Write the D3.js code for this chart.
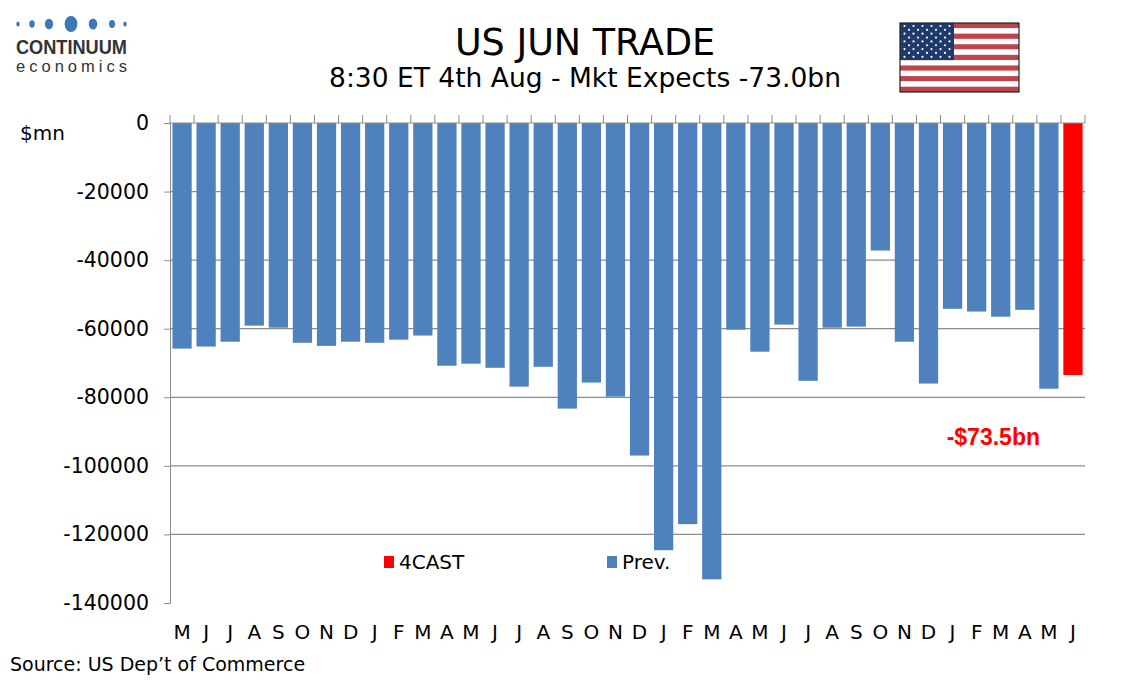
<!DOCTYPE html>
<html>
<head>
<meta charset="utf-8">
<script src="https://cdn.jsdelivr.net/npm/d3@7"></script>
<style>
  body { margin: 0; background: #fff; }
</style>
</head>
<body>
<div id="chart"></div>
<script>
const WIDTH  = 1134;
const HEIGHT = 680;
const MARGIN = { top: 123, right: 49, bottom: 77, left: 170 };
const INNER_WIDTH  = WIDTH - MARGIN.left - MARGIN.right;
const INNER_HEIGHT = HEIGHT - MARGIN.top - MARGIN.bottom;
const SANS  = '"DejaVu Sans", Verdana, sans-serif';
const ARIAL = '"Liberation Sans", Arial, sans-serif';

// month labels, May (two years back) to June
const months = ['M','J','J','A','S','O','N','D',
  'J','F','M','A','M','J','J','A','S','O','N','D',
  'J','F','M','A','M','J','J','A','S','O','N','D',
  'J','F','M','A','M','J'];
// trade balance, $mn (last one is the forecast)
const balance = [-65800, -65200, -63800, -59100, -59700, -64100, -65000, -63800,
  -64100, -63200, -62000, -70800, -70200, -71400, -76900, -71100, -83300, -75700,
  -79800, -97000, -124600, -117000, -133100, -60300, -66700, -58800, -75200, -59700,
  -59400, -37200, -63800, -76000, -54200, -55000, -56500, -54500, -77500, -73500];
const yTicks = [0, -20000, -40000, -60000, -80000, -100000, -120000, -140000];
const legendItems = [
  { name: '4CAST', color: '#ff0000' },
  { name: 'Prev.', color: '#4f81bd' }
];

const data = months.map((m, i) => ({ i: i, m: m, v: balance[i], fc: i === months.length - 1 }));

const root = d3.select('#chart').append('svg')
  .attr('width', WIDTH)
  .attr('height', HEIGHT)
  .attr('font-family', SANS);
const svg = root.append('g')
  .attr('transform', 'translate(' + MARGIN.left + ',' + MARGIN.top + ')');

const x = d3.scaleBand().domain(d3.range(months.length)).range([0, INNER_WIDTH]).paddingInner(0.2).paddingOuter(0.1);
const y = d3.scaleLinear().domain([-140000, 0]).range([INNER_HEIGHT, 0]);

// horizontal grid
svg.append('g')
  .selectAll('line')
  .data(yTicks.filter(d => d < 0 && d > -140000))
  .join('line')
    .attr('x1', 0).attr('x2', INNER_WIDTH)
    .attr('y1', d => y(d)).attr('y2', d => y(d))
    .attr('stroke', '#8c8c8c').attr('stroke-width', 1.2);

// bars
svg.append('g')
  .selectAll('rect')
  .data(data)
  .join('rect')
    .attr('x', d => x(d.i))
    .attr('width', x.bandwidth())
    .attr('y', y(0))
    .attr('height', d => y(d.v) - y(0))
    .attr('fill', d => d.fc ? '#ff0000' : '#4f81bd');

// y axis
const yAxis = d3.axisLeft(y).tickValues(yTicks).tickSize(6).tickPadding(15).tickFormat(d3.format('d'));
const ya = svg.append('g').call(yAxis);
ya.select('.domain').attr('stroke', '#8c8c8c');
ya.selectAll('.tick line').attr('stroke', '#8c8c8c');
ya.selectAll('.tick text').attr('font-size', 20.5).attr('fill', '#000')
  .attr('font-family', SANS)
  .text(d => d === 0 ? '0' : '-' + Math.abs(d));

// zero line with category ticks pointing up
const bounds = d3.range(months.length + 1).map(k => k * INNER_WIDTH / months.length);
svg.append('line')
  .attr('x1', 0).attr('x2', INNER_WIDTH)
  .attr('y1', y(0)).attr('y2', y(0))
  .attr('stroke', '#8c8c8c').attr('stroke-width', 1.2);
svg.append('g')
  .selectAll('line')
  .data(bounds)
  .join('line')
    .attr('x1', d => d).attr('x2', d => d)
    .attr('y1', y(0)).attr('y2', y(0) - 8)
    .attr('stroke', '#8c8c8c');

// month labels
svg.append('g')
  .selectAll('text')
  .data(data)
  .join('text')
    .attr('x', d => x(d.i) + x.bandwidth() / 2)
    .attr('y', INNER_HEIGHT + 36)
    .attr('text-anchor', 'middle')
    .attr('font-size', 20)
    .text(d => d.m);

// forecast label
const last = data[data.length - 1];
svg.append('text')
  .attr('x', 1040 - MARGIN.left)
  .attr('y', y(-93800))
  .attr('text-anchor', 'end')
  .attr('font-family', ARIAL)
  .attr('font-weight', 'bold')
  .attr('font-size', 23)
  .attr('fill', '#ff0000')
  .text('-$' + (Math.abs(last.v) / 1000).toFixed(1) + 'bn');

// legend
const legend = svg.append('g').attr('transform', 'translate(' + (384 - MARGIN.left) + ',' + (562 - MARGIN.top) + ')');
legendItems.forEach((item, k) => {
  const g = legend.append('g').attr('transform', 'translate(' + (k * 223) + ',0)');
  g.append('rect').attr('x', 0).attr('y', -6).attr('width', 10).attr('height', 12).attr('fill', item.color);
  g.append('text').attr('x', 15).attr('y', 7).attr('font-size', 20).text(item.name);
});

// titles
root.append('text')
  .attr('x', 585).attr('y', 55)
  .attr('text-anchor', 'middle')
  .attr('font-size', 36.5)
  .text('US JUN TRADE');
root.append('text')
  .attr('x', 585).attr('y', 87)
  .attr('text-anchor', 'middle')
  .attr('font-size', 26.5)
  .text('8:30 ET 4th Aug - Mkt Expects -73.0bn');

root.append('text')
  .attr('x', 20).attr('y', 140)
  .attr('font-size', 20)
  .text('$mn');

root.append('text')
  .attr('x', 10).attr('y', 671)
  .attr('font-size', 19)
  .text('Source: US Dep\u2019t of Commerce');

// logo
const logo = root.append('g').attr('fill', '#3c78b4');
const dots = [[18, 2], [32, 3.2], [49, 4.8], [71, 7.5], [93, 5], [112, 3.5], [125, 2]];
dots.forEach(d => {
  logo.append('ellipse').attr('cx', d[0]).attr('cy', 24).attr('rx', d[1] * 0.85).attr('ry', d[1] + 0.5);
});
root.append('text')
  .attr('x', 16).attr('y', 54)
  .attr('font-family', ARIAL)
  .attr('font-weight', 'bold')
  .attr('font-size', 21)
  .attr('textLength', 111)
  .attr('lengthAdjust', 'spacingAndGlyphs')
  .attr('fill', '#333')
  .text('CONTINUUM');
root.append('text')
  .attr('x', 16).attr('y', 71.5)
  .attr('font-family', ARIAL)
  .attr('font-size', 16.5)
  .attr('textLength', 111)
  .attr('lengthAdjust', 'spacing')
  .attr('fill', '#333')
  .text('economics');

// flag
const flag = root.append('g').attr('transform', 'translate(900,23)');
const fw = 119, fh = 69, sh = fh / 13;
d3.range(13).forEach(k => {
  flag.append('rect').attr('x', 0).attr('y', k * sh).attr('width', fw).attr('height', sh)
    .attr('fill', k % 2 === 0 ? '#c0444c' : '#ffffff');
});
flag.append('rect').attr('width', 54).attr('height', sh * 7).attr('fill', '#1f3a6b');
for (let r = 0; r < 9; r++) {
  const n = r % 2 === 0 ? 6 : 5;
  for (let c = 0; c < n; c++) {
    flag.append('circle')
      .attr('cx', (r % 2 === 0 ? 4.5 : 9) + c * 9)
      .attr('cy', 3 + r * 3.85)
      .attr('r', 1.1)
      .attr('fill', '#fff');
  }
}
flag.append('rect').attr('width', fw).attr('height', fh).attr('fill', 'none').attr('stroke', '#222').attr('stroke-width', 1.2);
</script>
</body>
</html>
